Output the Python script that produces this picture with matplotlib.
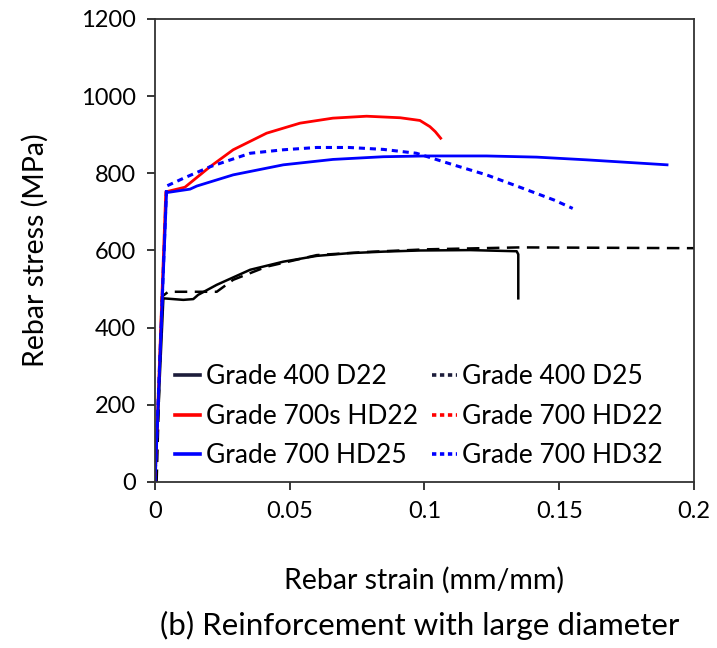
import matplotlib
matplotlib.use("Agg")
import matplotlib.pyplot as plt

plt.rcParams['font.family'] = ['Lato', 'DejaVu Sans']

# Grade 400 D22 (black solid)
g400_d22_strain = [0.0, 0.0031, 0.0105, 0.0142, 0.016, 0.0229, 0.0353, 0.0476, 0.06, 0.072, 0.0847, 0.0983, 0.117, 0.1342, 0.1348, 0.1348]
g400_d22_stress = [0, 476, 472, 474, 485, 511, 550, 571, 586, 593, 597, 600, 601, 598, 590, 476]

# Grade 400 D25 (black dashed)
g400_d25_strain = [0.0006, 0.0025, 0.0049, 0.0155, 0.0229, 0.029, 0.0414, 0.06, 0.078, 0.1008, 0.1354, 0.1985, 0.21]
g400_d25_stress = [0, 480, 493, 493, 493, 524, 558, 588, 596, 603, 608, 606, 606]

# Grade 700s HD22 (red solid)
g700s_hd22_strain = [0.0, 0.004, 0.0111, 0.0204, 0.029, 0.0414, 0.0538, 0.066, 0.0785, 0.091, 0.0983, 0.102, 0.104, 0.106]
g700s_hd22_stress = [0, 752, 764, 817, 861, 904, 930, 943, 948, 944, 937, 921, 908, 891]

# Grade 700 HD22 (red dotted) - not visible in plot area
g700_hd22_strain = []
g700_hd22_stress = []

# Grade 700 HD25 (blue solid)
g700_hd25_strain = [0.0, 0.0043, 0.013, 0.0155, 0.029, 0.0476, 0.066, 0.0847, 0.1008, 0.123, 0.1416, 0.160, 0.19]
g700_hd25_stress = [0, 750, 759, 767, 796, 822, 836, 843, 845, 845, 842, 835, 822]

# Grade 700 HD32 (blue dotted)
g700_hd32_strain = [0.0, 0.0043, 0.0105, 0.0204, 0.0353, 0.0476, 0.06, 0.072, 0.0847, 0.097, 0.1107, 0.123, 0.1354, 0.148, 0.155]
g700_hd32_stress = [0, 767, 787, 817, 852, 861, 867, 867, 862, 852, 822, 796, 764, 731, 709]

x_ticks = [0, 0.05, 0.1, 0.15, 0.2]
x_tick_labels = ['0', '0.05', '0.1', '0.15', '0.2']
y_ticks = [0, 200, 400, 600, 800, 1000, 1200]

fig = plt.figure(figsize=(7.17, 6.48), dpi=100)
ax = fig.add_axes([0.2162, 0.2562, 0.7517, 0.7145])

dot = (0, (1.2, 1.0))
l1, = ax.plot(g400_d22_strain, g400_d22_stress, color='black', lw=1.8, label='Grade 400 D22')
l2, = ax.plot(g400_d25_strain, g400_d25_stress, color='black', lw=1.8, linestyle=(0, (5, 3)), label='Grade 400 D25')
l3, = ax.plot(g700s_hd22_strain, g700s_hd22_stress, color='#ff0000', lw=2.0, label='Grade 700s HD22')
l4, = ax.plot(g700_hd22_strain, g700_hd22_stress, color='#ff0000', lw=2.0, linestyle=dot, label='Grade 700 HD22')
l5, = ax.plot(g700_hd25_strain, g700_hd25_stress, color='#0000ff', lw=2.0, label='Grade 700 HD25')
l6, = ax.plot(g700_hd32_strain, g700_hd32_stress, color='#0000ff', lw=2.2, linestyle=(0, (2, 1.6)), label='Grade 700 HD32')

ax.set_xlim(0, 0.2)
ax.set_ylim(0, 1200)
ax.set_xticks(x_ticks)
ax.set_xticklabels(x_tick_labels)
ax.set_yticks(y_ticks)
ax.tick_params(direction='out', length=6, width=1.1, labelsize=17, pad=8, colors='black')
for sp in ax.spines.values():
    sp.set_linewidth(1.3)
    sp.set_color('#333333')

ax.set_ylabel('Rebar stress (MPa)', fontsize=20.5)
ax.yaxis.set_label_coords(-0.223, 0.5)
ax.set_xlabel('Rebar strain (mm/mm)', fontsize=20.5)
ax.xaxis.set_label_coords(0.5, -0.212)
ax.xaxis.label.set_va('center')
ax.yaxis.label.set_va('center')
fig.text(0.586, 0.035, '(b) Reinforcement with large diameter', fontsize=22.5, ha='center', va='center')

# legend in row order: fill column-major to obtain row layout
order = [l1, l3, l5, l2, l4, l6]
leg = ax.legend(order, [h.get_label() for h in order], ncol=2, loc='lower left',
                bbox_to_anchor=(0.008, -0.005), frameon=False, fontsize=19,
                handlelength=0.95, handletextpad=0.2, columnspacing=0.55,
                labelspacing=0.55, borderaxespad=0.2)
hl = leg.legend_handles
hl[0].set_color('#1c1c3a')
hl[3].set_linestyle(dot)
hl[3].set_color('#1c1c3a')
hl[5].set_linestyle(dot)
for h in hl:
    h.set_linewidth(2.6)

fig.savefig('out.png', dpi=100)
